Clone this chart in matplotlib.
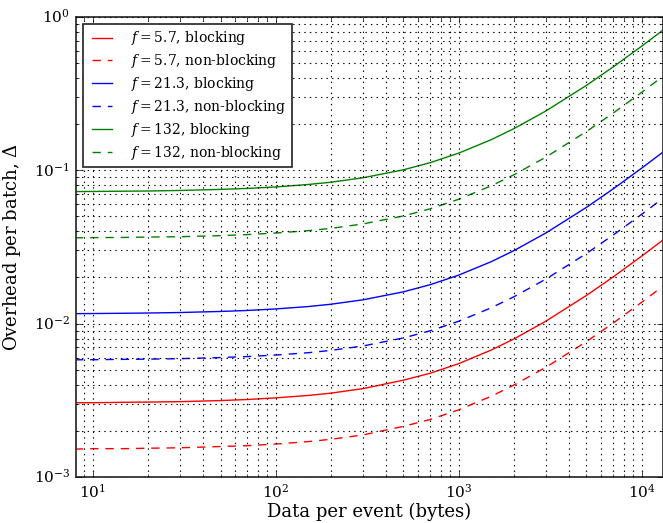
import matplotlib
matplotlib.use("Agg")
import matplotlib.pyplot as plt

plt.style.use('classic')
plt.rcParams['font.family'] = 'DejaVu Serif'
plt.rcParams['mathtext.fontset'] = 'dejavuserif'

x_bytes = [8, 10, 15, 20, 30, 50, 70, 100, 150, 200, 300, 500, 700, 1000,
           1500, 2000, 3000, 5000, 7000, 10000, 13100]

red_blocking = [0.00305, 0.00305, 0.00307, 0.00308, 0.00310, 0.00315, 0.00320,
                0.00328, 0.00340, 0.00352, 0.00377, 0.00428, 0.00475, 0.00548,
                0.00671, 0.00793, 0.01038, 0.01528, 0.02018, 0.02753, 0.03513]
red_nonblocking = [0.00152, 0.00153, 0.00153, 0.00154, 0.00155, 0.00158, 0.00160,
                   0.00164, 0.00170, 0.00176, 0.00188, 0.00214, 0.00237, 0.00274,
                   0.00335, 0.00397, 0.00519, 0.00764, 0.01009, 0.01377, 0.01756]
blue_blocking = [0.01162, 0.01164, 0.01169, 0.01173, 0.01182, 0.01201, 0.01219,
                 0.01247, 0.01292, 0.01338, 0.01430, 0.01613, 0.01796, 0.02071,
                 0.02529, 0.02987, 0.03903, 0.05735, 0.07567, 0.10315, 0.13155]
blue_nonblocking = [0.00581, 0.00582, 0.00585, 0.00587, 0.00591, 0.00601, 0.00610,
                    0.00624, 0.00646, 0.00669, 0.00715, 0.00807, 0.00898, 0.01036,
                    0.01265, 0.01494, 0.01952, 0.02868, 0.03784, 0.05158, 0.06578]
green_blocking = [0.0727, 0.0728, 0.0731, 0.0733, 0.0739, 0.0751, 0.0762,
                  0.0779, 0.0808, 0.0836, 0.0894, 0.1008, 0.1122, 0.1294,
                  0.1580, 0.1866, 0.2438, 0.3582, 0.4726, 0.6442, 0.8215]
green_nonblocking = [0.0363, 0.0364, 0.0365, 0.0367, 0.0369, 0.0375, 0.0381,
                     0.0390, 0.0404, 0.0418, 0.0447, 0.0504, 0.0561, 0.0647,
                     0.0790, 0.0933, 0.1219, 0.1791, 0.2363, 0.3221, 0.4108]

labels = [r'$f = 5.7$, blocking', r'$f = 5.7$, non-blocking',
          r'$f = 21.3$, blocking', r'$f = 21.3$, non-blocking',
          r'$f = 132$, blocking', r'$f = 132$, non-blocking']
series = [red_blocking, red_nonblocking, blue_blocking, blue_nonblocking,
          green_blocking, green_nonblocking]
colors = ['r', 'r', 'b', 'b', 'g', 'g']
styles = ['-', '--', '-', '--', '-', '--']

fig = plt.figure(figsize=(6.63, 5.23), dpi=100, facecolor='white')
ax = fig.add_axes([0.114, 0.088, 0.886, 0.8795])
for ys, c, ls, lab in zip(series, colors, styles, labels):
    line, = ax.plot(x_bytes, ys, color=c, linestyle=ls, linewidth=1.0, label=lab)
    if ls == '--':
        line.set_dashes((6, 5))

ax.set_xscale('log')
ax.set_yscale('log')
ax.set_xlim(8.07, 13100)
ax.set_ylim(1e-3, 1)
ax.grid(True, which='both', color='black', linestyle=':', linewidth=0.8)
for sp in ax.spines.values():
    sp.set_linewidth(1.3)
    sp.set_color('#333333')
ax.set_xlabel('Data per event (bytes)', fontsize=13, labelpad=2)
ax.set_ylabel(r'Overhead per batch, $\Delta$', fontsize=13, labelpad=8)
ax.tick_params(labelsize=11)
leg = ax.legend(loc='upper left', fontsize=10, frameon=True, fancybox=False,
                borderaxespad=0.5, handlelength=2.0, labelspacing=0.35,
                handletextpad=1.1)
leg.get_frame().set_edgecolor('#333333')
leg.get_frame().set_linewidth(1.3)
fig.savefig('out.png', dpi=100, facecolor='white')
